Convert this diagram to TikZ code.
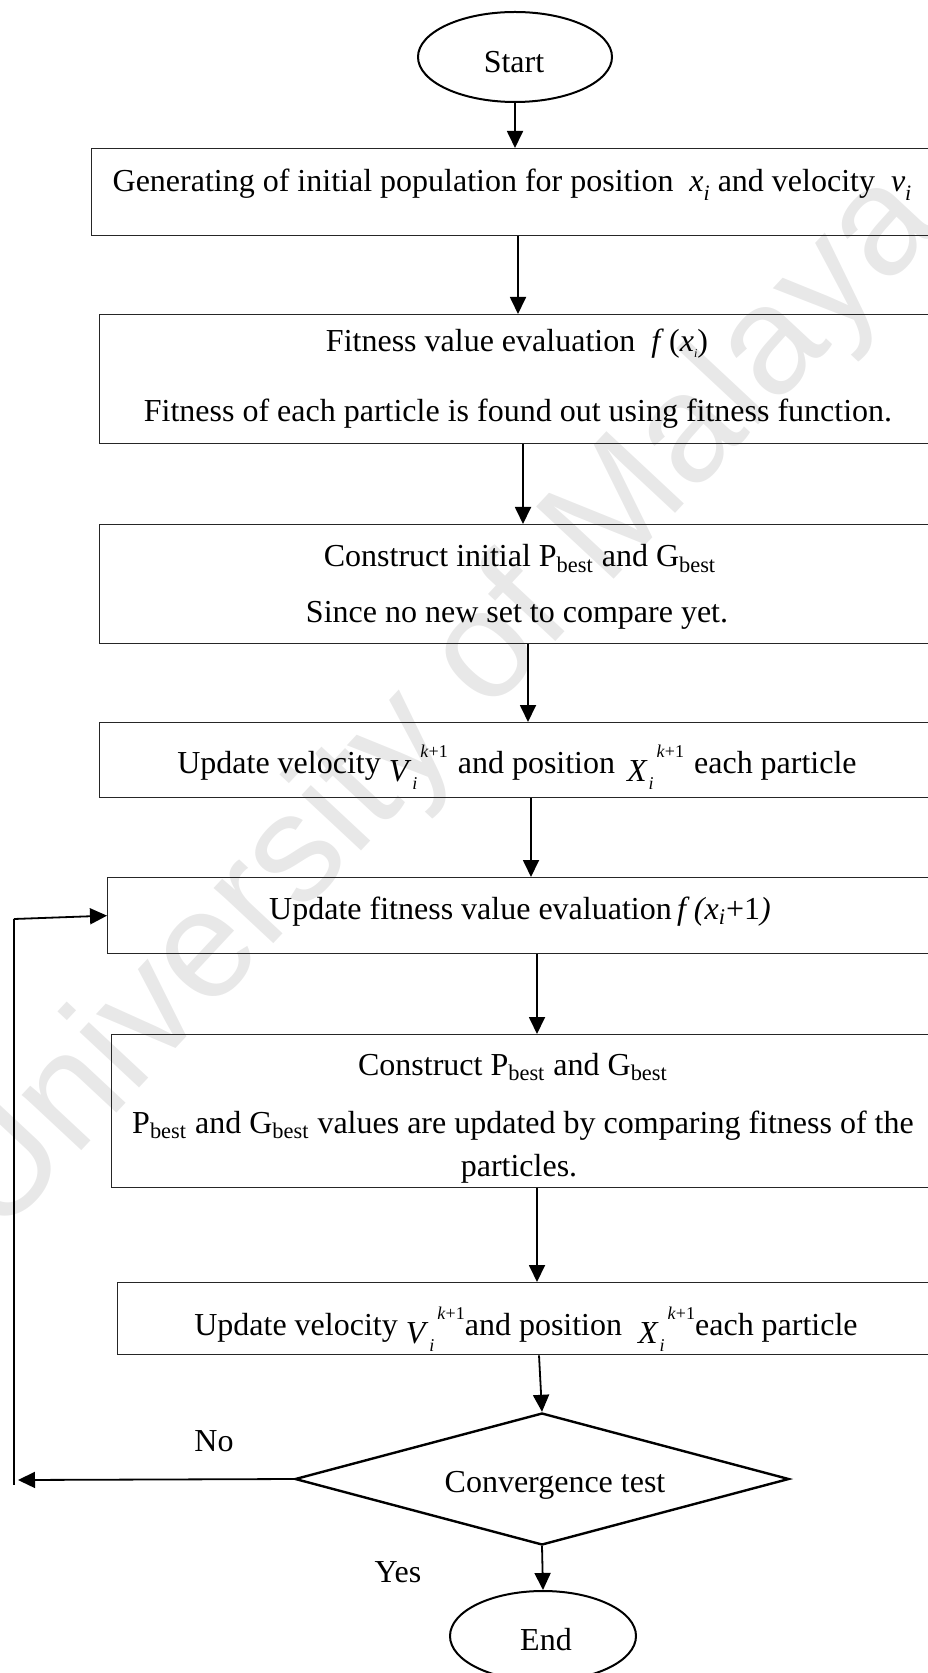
\documentclass[tikz,border=0pt]{standalone}
\usepackage{fontspec}
\setmainfont{Liberation Serif}
\newfontfamily\wmfont{Liberation Sans}
\usetikzlibrary{arrows.meta,shapes.geometric}

% velocity / position with subscript i and superscript k+1
\newcommand\stepvar[1]{\raisebox{-4pt}{\textit{#1}}\kern0.5pt\rlap{\raisebox{-8pt}{\fontsize{9}{9}\selectfont\textit{i}}}\kern4pt\raisebox{8pt}{\fontsize{9}{9}\selectfont\textit{k}+1}}
\newcommand\subi{\raisebox{-4.5pt}{\fontsize{11}{11}\selectfont\textit{i}}}
\newcommand\best{\textsubscript{best}}

\tikzset{
  lbl/.style={anchor=base, inner sep=0pt, font=\fontsize{16}{19}\selectfont},
  stepbox/.style={draw=black!85, line width=0.65pt, rectangle, anchor=north west, inner sep=0pt},
  arr/.style={-{Triangle[length=8.5pt,width=8pt]}, line width=0.9pt},
  term/.style={ellipse, draw, line width=1pt, minimum height=45pt, inner sep=0pt},
}

\begin{document}
\begin{tikzpicture}[x=0.5pt,y=-0.5pt]
\useasboundingbox (0,0) rectangle (927,1673);

% watermark
\node[rotate=47, anchor=base west, inner sep=0pt, text=black!9,
      font=\wmfont\fontsize{77}{77}\selectfont] (wm) at (-2,1240) {University of Malaya};

% terminals
\node[term, minimum width=97pt] (start) at (515,57) {};
\node[lbl] (startl) at (514,73) {Start};
\node[term, minimum width=93pt] (end) at (543,1636) {};
\node[lbl] (endl) at (546,1650) {End};

% process boxes (their right sides run past the page edge)
\node[stepbox, minimum width=424.5pt, minimum height=43.5pt] (b1) at (91,148) {};
\node[stepbox, minimum width=420.5pt, minimum height=64.5pt] (b2) at (99,314) {};
\node[stepbox, minimum width=420.5pt, minimum height=59.5pt] (b3) at (99,524) {};
\node[stepbox, minimum width=420.5pt, minimum height=37.5pt] (b4) at (99,722) {};
\node[stepbox, minimum width=416.5pt, minimum height=38pt] (b5) at (107,877) {};
\node[stepbox, minimum width=414.5pt, minimum height=76.5pt] (b6) at (111,1034) {};
\node[stepbox, minimum width=411.5pt, minimum height=36pt] (b7) at (117,1282) {};

% decision
\node[diamond, draw, line width=1.2pt, minimum width=247pt, minimum height=66pt, inner sep=0pt] (dia) at (542,1479) {};
\node[lbl] (dial) at (555,1492) {Convergence test};

% box texts
\node[lbl] (t1) at (512,192) {Generating of initial population for position \ \textit{x}\subi\ and velocity \ \textit{v}\subi};
\node[lbl] (t2a) at (517,352) {Fitness value evaluation \ \textit{f}\,(\textit{x}\raisebox{-3pt}{\fontsize{6}{6}\selectfont\textit{i}})};
\node[lbl] (t2b) at (518,422) {Fitness of each particle is found out using fitness function.};
\node[lbl] (t3a) at (520,567) {Construct initial P\best\ and G\best};
\node[lbl] (t3b) at (517,622) {Since no new set to compare yet.};
\node[lbl] (t4) at (517,773) {Update velocity \stepvar{V}\kern5pt and position\kern6pt \stepvar{X}\kern5pt each particle};
\node[lbl] (t5) at (520,919) {Update fitness value evaluation\,\textit{f (x}\textsubscript{\textit{i}}+1\textit{)}};
\node[lbl] (t6a) at (513,1075) {Construct P\best\ and G\best};
\node[lbl] (t6b) at (523,1133) {P\best\ and G\best\ values are updated by comparing fitness of the};
\node[lbl] (t6c) at (519,1176) {particles.};
\node[lbl] (t7) at (526,1335) {Update velocity \stepvar{V}and position \ \stepvar{X}each particle};

% branch labels
\node[lbl] (no) at (214,1451) {No};
\node[lbl] (yes) at (398,1582) {Yes};

% connector columns
\coordinate (c1) at (515,0);
\coordinate (c2) at (518,0);
\coordinate (c3) at (523,0);
\coordinate (c4) at (528,0);
\coordinate (c5) at (531,0);
\coordinate (c6) at (537,0);
\coordinate (c7) at (537,0);
\coordinate (c8) at (539,0);

\draw[arr] (start.south) -- (b1.north -| c1);
\draw[arr] (b1.south -| c2) -- (b2.north -| c2);
\draw[arr] (b2.south -| c3) -- (b3.north -| c3);
\draw[arr] (b3.south -| c4) -- (b4.north -| c4);
\draw[arr] (b4.south -| c5) -- (b5.north -| c5);
\draw[arr] (b5.south -| c6) -- (b6.north -| c6);
\draw[arr] (b6.south -| c7) -- (b7.north -| c7);
\draw[arr] (b7.south -| c8) -- (dia.north);
\draw[arr] (dia.south) -- (end.north);

% feedback loop
\coordinate (ltop) at (14,919);
\coordinate (lbot) at (14,1485);
\coordinate (lend) at (18,1480);
\draw[arr] (dia.west) -- (lend);
\draw[line width=0.6pt] (ltop) -- (lbot);
\draw[arr] (ltop) -- (b5.west);
\end{tikzpicture}
\end{document}
